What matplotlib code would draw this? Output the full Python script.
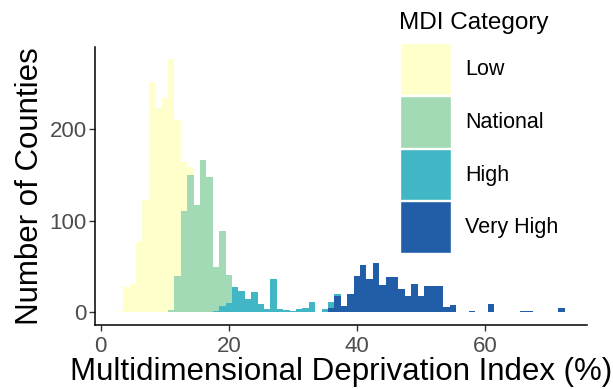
import numpy as np
import matplotlib.pyplot as plt
from matplotlib.patches import Patch

plt.rcParams['font.family'] = ['Liberation Sans', 'DejaVu Sans']

# histogram bins of width 1, centred on whole percentages
bins = np.arange(3, 73)

# counts per bin
low = {3: 1, 4: 28, 5: 31, 6: 77, 7: 123, 8: 251, 9: 223, 10: 234,
       11: 274, 12: 171, 13: 53, 14: 9}
national = {11: 2, 12: 39, 13: 111, 14: 150, 15: 117, 16: 166, 17: 148,
            18: 48, 19: 82, 20: 31}
high = {18: 1, 19: 7, 20: 10, 21: 28, 22: 23, 23: 14, 24: 22, 25: 9, 26: 4,
        27: 36, 28: 4, 29: 2, 30: 1, 31: 3, 32: 5, 33: 11, 35: 3, 36: 6, 37: 2}
very_high = {36: 5, 37: 18, 38: 7, 39: 20, 40: 39, 41: 52, 42: 36, 43: 54,
             44: 30, 45: 38, 46: 38, 47: 25, 48: 18, 49: 31, 50: 18, 51: 29,
             52: 29, 53: 29, 54: 6, 55: 8, 58: 1, 61: 9, 66: 1, 67: 1, 72: 5}

categories = ['Low', 'National', 'High', 'Very High']
colors = ['#FFFFCC', '#A1DAB4', '#41B6C4', '#225EA8']
series = [low, national, high, very_high]

fig = plt.figure(figsize=(6.13, 3.89), dpi=100)
ax = fig.add_axes([0.155, 0.165, 0.803, 0.715])

# stack: Very High at the bottom, Low on top (ggplot order)
bottom = np.zeros(len(bins))
for name, col, s in reversed(list(zip(categories, colors, series))):
    vals = np.array([s.get(b, 0) for b in bins], dtype=float)
    ax.bar(bins, vals, width=1.0, bottom=bottom, color=col, linewidth=0)
    bottom += vals

ax.set_xlim(-0.9, 76)
ax.set_ylim(-13.8, 290)
ax.set_xticks([0, 20, 40, 60])
ax.set_yticks([0, 100, 200])
for side in ['top', 'right']:
    ax.spines[side].set_visible(False)
for side in ['left', 'bottom']:
    ax.spines[side].set_color('black')
    ax.spines[side].set_linewidth(1.1)
ax.tick_params(axis='both', colors='#333333', labelcolor='#4D4D4D',
               labelsize=16, length=4, width=1)
ax.tick_params(axis='x', pad=4)
ax.tick_params(axis='y', pad=2)

ax.set_xlabel('Multidimensional Deprivation Index (%)', fontsize=22.5, labelpad=0)
ax.set_ylabel('Number of Counties', fontsize=22.5, labelpad=3)

# legend (title drawn separately to get the ggplot spacing)
handles = [Patch(facecolor=c, edgecolor='white', linewidth=1) for c in colors]
leg = ax.legend(handles, categories, loc='upper left',
                bbox_to_anchor=(400 / 613, 1 - 43 / 389),
                bbox_transform=fig.transFigure, frameon=False,
                fontsize=15.5, handlelength=2.37,
                handleheight=3.32, labelspacing=0.05, handletextpad=0.65,
                borderpad=0, borderaxespad=0)
fig.text(399 / 613, 1 - 28.5 / 389, 'MDI Category', fontsize=17.5,
         ha='left', va='baseline')

fig.savefig('out.png', dpi=100)
